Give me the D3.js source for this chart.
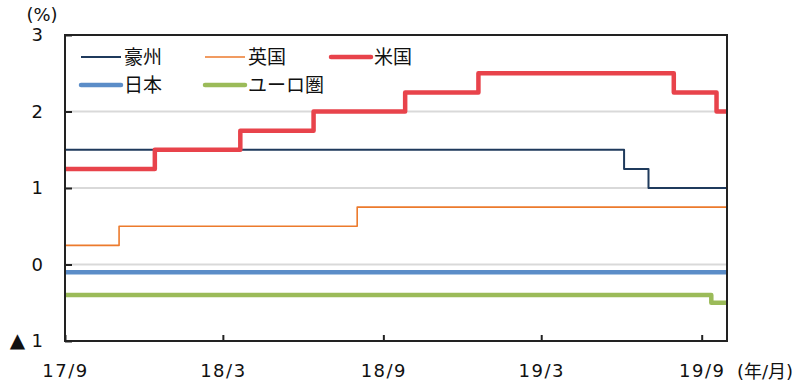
<!DOCTYPE html>
<html>
<head>
<meta charset="utf-8">
<script src="https://cdn.jsdelivr.net/npm/d3@7"></script>
<style>
  body { margin: 0; background: #fff; overflow: hidden; }
  svg { display: block; }
  text { font-family: "DejaVu Sans", "Noto Sans CJK JP", sans-serif; fill: #111; }
</style>
</head>
<body>
<svg id="mainsvg" width="806" height="387"></svg>
<script>
const svg = d3.select('#mainsvg');
const margin = {top: 35, right: 79, bottom: 46, left: 65};
const width = +svg.attr('width');
const height = +svg.attr('height');
const innerWidth = width - margin.left - margin.right;
const innerHeight = height - margin.top - margin.bottom;

// policy rates, step data: date of change -> new value
const startDate = '2017-09-01';
const endDate = '2019-09-30';
const ausDates = ['2017-09-01', '2019-06-04', '2019-07-02'];
const ausValues = [1.5, 1.25, 1.0];
const ukDates = ['2017-09-01', '2017-11-02', '2018-08-02'];
const ukValues = [0.25, 0.5, 0.75];
const usDates = ['2017-09-01', '2017-12-13', '2018-03-21', '2018-06-13', '2018-09-26', '2018-12-19', '2019-07-31', '2019-09-18'];
const usValues = [1.25, 1.5, 1.75, 2.0, 2.25, 2.5, 2.25, 2.0];
const jpDates = ['2017-09-01'];
const jpValues = [-0.1];
const euDates = ['2017-09-01', '2019-09-12'];
const euValues = [-0.4, -0.5];

const yTicks = [-1, 0, 1, 2, 3];
const yTickLabels = ['1', '0', '1', '2', '3'];
const xTicks = ['2017-09-01', '2018-03-01', '2018-09-01', '2019-03-01', '2019-09-01'];
const xTickLabels = ['17/9', '18/3', '18/9', '19/3', '19/9'];

const parse = d3.timeParse('%Y-%m-%d');

const series = [
  {name: '豪州', dates: ausDates, values: ausValues, color: '#1f3a5c', w: 2},
  {name: '英国', dates: ukDates, values: ukValues, color: '#ec7a2c', w: 1.6},
  {name: '米国', dates: usDates, values: usValues, color: '#e8434b', w: 4.5},
  {name: '日本', dates: jpDates, values: jpValues, color: '#5b8dc8', w: 4.5},
  {name: 'ユーロ圏', dates: euDates, values: euValues, color: '#9bbb59', w: 4.5}
];

const g = svg.append('g').attr('transform', `translate(${margin.left}, ${margin.top})`);

const xScale = d3.scaleTime()
  .domain([parse(startDate), parse(endDate)])
  .range([0, innerWidth]);

const yScale = d3.scaleLinear()
  .domain([-1, 3])
  .range([innerHeight, 0]);

// grid
g.selectAll('.grid')
  .data([0, 1, 2])
  .join('line')
  .attr('x1', 0).attr('x2', innerWidth)
  .attr('y1', d => yScale(d)).attr('y2', d => yScale(d))
  .attr('stroke', '#d9d9d9').attr('stroke-width', 2);

// lines
const line = d3.line()
  .x(d => xScale(d.date))
  .y(d => yScale(d.value))
  .curve(d3.curveStepAfter);

series.forEach(s => {
  const pts = s.dates.map((d, i) => ({date: parse(d), value: s.values[i]}));
  pts.push({date: parse(endDate), value: s.values[s.values.length - 1]});
  g.append('path')
    .attr('d', line(pts))
    .attr('fill', 'none')
    .attr('stroke', s.color)
    .attr('stroke-width', s.w)
    .attr('stroke-linejoin', 'round');
});

// frame
g.append('rect')
  .attr('x', 0).attr('y', 0)
  .attr('width', innerWidth).attr('height', innerHeight)
  .attr('fill', 'none').attr('stroke', '#222').attr('stroke-width', 2);

// y axis
const yAxis = g.append('g')
  .call(d3.axisLeft(yScale).tickValues(yTicks).tickSize(-7).tickPadding(22)
    .tickFormat((d, i) => yTickLabels[i]));
yAxis.select('.domain').remove();
yAxis.selectAll('.tick line').attr('stroke', '#222').attr('stroke-width', 2);
yAxis.selectAll('.tick text').style('font-size', '18px').attr('fill', '#111');
// negative sign shown as a black triangle
yAxis.selectAll('.tick').filter(d => d < 0).select('text')
  .each(function(d) {
    const t = d3.select(this);
    const label = t.text();
    t.text(null);
    t.append('tspan').style('font-size', '20px').text('▲ ');
    t.append('tspan').text(label);
  });

// x axis
const xAxis = g.append('g')
  .attr('transform', `translate(0, ${innerHeight})`)
  .call(d3.axisBottom(xScale).tickValues(xTicks.map(parse)).tickSize(-6).tickPadding(23)
    .tickFormat((d, i) => xTickLabels[i]));
xAxis.select('.domain').remove();
xAxis.selectAll('.tick line').attr('stroke', '#222').attr('stroke-width', 2);
xAxis.selectAll('.tick text').style('font-size', '18px').style('letter-spacing', '1.5px').attr('fill', '#111');

// units
svg.append('text').attr('x', 42).attr('y', 21)
  .attr('text-anchor', 'middle').style('font-size', '18px').text('(%)');
svg.append('text').attr('x', 737).attr('y', 378)
  .style('font-size', '18px').text('(年/月)');

// legend
const legendPos = [[81, 57], [205, 57], [331, 57], [81, 85], [205, 85]];
series.forEach((s, i) => {
  const [lx, ly] = legendPos[i];
  svg.append('line')
    .attr('x1', lx).attr('x2', lx + 40)
    .attr('y1', ly).attr('y2', ly)
    .attr('stroke', s.color).attr('stroke-width', s.w)
    .attr('stroke-linecap', s.w > 3 ? 'round' : 'butt');
  svg.append('text')
    .attr('x', lx + 43).attr('y', ly + 7)
    .style('font-size', '19px')
    .style('font-family', '"Noto Sans CJK JP", sans-serif')
    .text(s.name);
});
</script>
</body>
</html>
